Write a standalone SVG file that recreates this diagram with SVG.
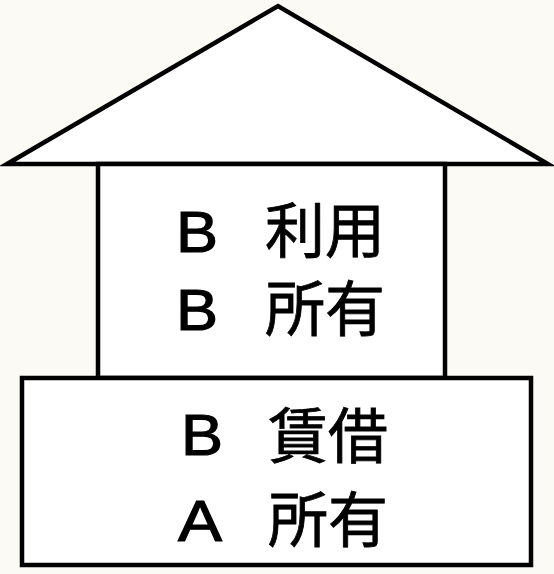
<svg xmlns="http://www.w3.org/2000/svg" width="554" height="574" viewBox="0 0 554 574">
<style>
.shape{fill:#ffffff;stroke:#000000;stroke-width:4.5;stroke-linejoin:miter}
.lat{font-family:"Liberation Sans",Arial,sans-serif;font-size:58px;fill:#000;stroke:#000;stroke-width:1.2}
.cjk{font-family:"Noto Sans CJK JP","Noto Sans CJK SC",sans-serif;font-size:60px;fill:#000;stroke:#000;stroke-width:0.8}
</style>
<rect x="0" y="0" width="554" height="574" fill="#fbfaf5"/>
<g id="roof">
<polygon class="shape" points="7,164 278,6 548,164"/>
</g>
<g id="upper">
<rect class="shape" x="98" y="164" width="347" height="214"/>
<text class="lat" x="176" y="252" textLength="42" lengthAdjust="spacingAndGlyphs">B</text>
<text class="cjk" x="265" y="253">利用</text>
<text class="lat" x="176" y="330" textLength="42" lengthAdjust="spacingAndGlyphs">B</text>
<text class="cjk" x="265" y="331">所有</text>
</g>
<g id="lower">
<rect class="shape" x="22" y="378" width="509" height="187"/>
<text class="lat" x="181" y="455" textLength="42" lengthAdjust="spacingAndGlyphs">B</text>
<text class="cjk" x="268" y="458">賃借</text>
<text class="lat" x="178" y="541" textLength="44" lengthAdjust="spacingAndGlyphs">A</text>
<text class="cjk" x="268" y="542">所有</text>
</g>
<g id="connectors"/>
</svg>
